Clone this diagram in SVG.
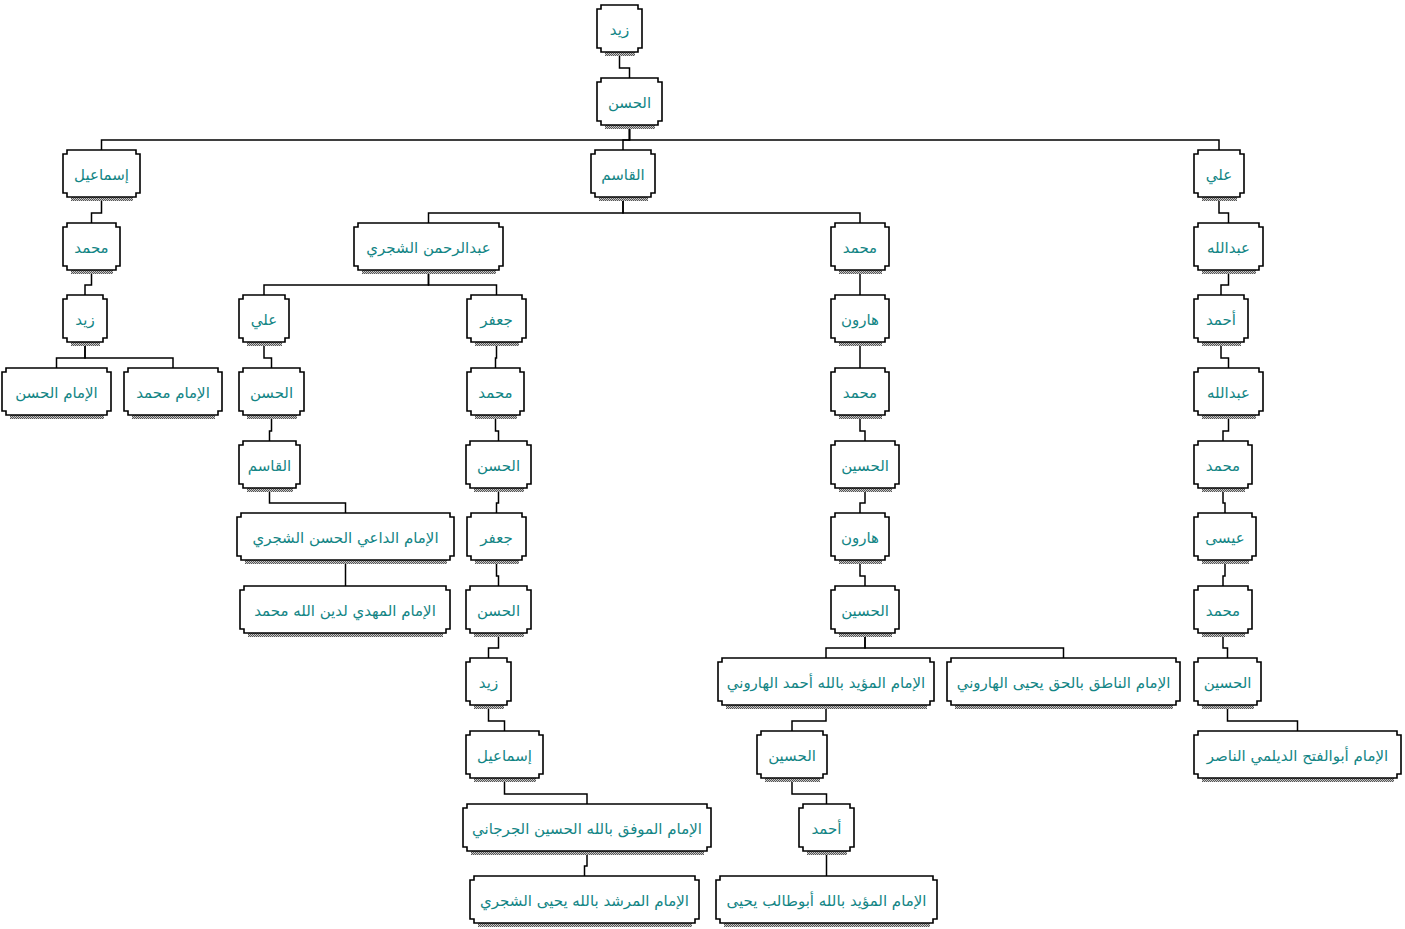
<svg xmlns="http://www.w3.org/2000/svg" width="1405" height="929" viewBox="0 0 1405 929">
<defs>
<pattern id="dither" width="2" height="2" patternUnits="userSpaceOnUse">
<rect width="2" height="2" fill="#c8c8c8"/>
<rect width="1" height="1" fill="#555"/>
<rect x="1" y="1" width="1" height="1" fill="#555"/>
</pattern>
</defs>
<style>
.bx{fill:#fff;stroke:#000;stroke-width:1.6;stroke-linejoin:miter}
.sh{fill:url(#dither)}
.cn path{fill:none;stroke:#000;stroke-width:1.5}
text{font-family:"DejaVu Sans",sans-serif;font-size:15px;fill:#138585;text-anchor:middle}
</style>
<rect width="1405" height="929" fill="#fff"/>
<g id="connectors" class="cn">
<path d="M619.5,52V68H629.5V78"/>
<path d="M629.5,125V140H101.5V150"/>
<path d="M629.5,125V140H623V150"/>
<path d="M629.5,125V140H1219V150"/>
<path d="M101.5,197V213H91.5V223"/>
<path d="M623,197V213H428.5V223"/>
<path d="M623,197V213H860V223"/>
<path d="M1219,197V213H1228.5V223"/>
<path d="M91.5,270V285H85V295"/>
<path d="M428.5,270V285H264V295"/>
<path d="M428.5,270V285H496.5V295"/>
<path d="M860,270V295"/>
<path d="M1228.5,270V285H1221V295"/>
<path d="M85,342V358H56.5V368"/>
<path d="M85,342V358H173V368"/>
<path d="M264,342V358H271.5V368"/>
<path d="M496.5,342V358H495.5V368"/>
<path d="M860,342V368"/>
<path d="M1221,342V358H1228.5V368"/>
<path d="M271.5,415V431H269.5V441"/>
<path d="M495.5,415V431H498.5V441"/>
<path d="M860,415V431H865V441"/>
<path d="M1228.5,415V431H1223V441"/>
<path d="M269.5,488V503H345.5V513"/>
<path d="M498.5,488V503H496.5V513"/>
<path d="M865,488V503H860V513"/>
<path d="M1223,488V503H1225V513"/>
<path d="M345.5,560V586"/>
<path d="M496.5,560V576H498.5V586"/>
<path d="M860,560V576H865V586"/>
<path d="M1225,560V576H1223V586"/>
<path d="M498.5,633V648H488.5V658"/>
<path d="M865,633V648H826V658"/>
<path d="M865,633V648H1063.5V658"/>
<path d="M1223,633V648H1227.5V658"/>
<path d="M488.5,705V721H504.5V731"/>
<path d="M826,705V721H792V731"/>
<path d="M1227.5,705V721H1297.5V731"/>
<path d="M504.5,778V794H587V804"/>
<path d="M792,778V794H826.5V804"/>
<path d="M587,851V866H584.5V876"/>
<path d="M826.5,851V876"/>
</g>

<g id="n0" transform="translate(597,5)"><rect class="sh" x="8" y="47" width="30" height="4"/><path class="bx" d="M4,0H41V4H45V43H41V47H4V43H0V4H4Z"/><text x="22.5" y="30">زيد</text></g>
<g id="n1" transform="translate(597,78)"><rect class="sh" x="8" y="47" width="50" height="4"/><path class="bx" d="M4,0H61V4H65V43H61V47H4V43H0V4H4Z"/><text x="32.5" y="30">الحسن</text></g>

<g id="n2a" transform="translate(63,150)"><rect class="sh" x="8" y="47" width="62" height="4"/><path class="bx" d="M4,0H73V4H77V43H73V47H4V43H0V4H4Z"/><text x="38.5" y="30">إسماعيل</text></g>
<g id="n2b" transform="translate(591,150)"><rect class="sh" x="8" y="47" width="49" height="4"/><path class="bx" d="M4,0H60V4H64V43H60V47H4V43H0V4H4Z"/><text x="32" y="30">القاسم</text></g>
<g id="n2c" transform="translate(1194,150)"><rect class="sh" x="8" y="47" width="35" height="4"/><path class="bx" d="M4,0H46V4H50V43H46V47H4V43H0V4H4Z"/><text x="25" y="30">علي</text></g>

<g id="n3a" transform="translate(63,223)"><rect class="sh" x="8" y="47" width="42" height="4"/><path class="bx" d="M4,0H53V4H57V43H53V47H4V43H0V4H4Z"/><text x="28.5" y="30">محمد</text></g>
<g id="n3b" transform="translate(354,223)"><rect class="sh" x="8" y="47" width="134" height="4"/><path class="bx" d="M4,0H145V4H149V43H145V47H4V43H0V4H4Z"/><text x="74.5" y="30">عبدالرحمن الشجري</text></g>
<g id="n3c" transform="translate(831,223)"><rect class="sh" x="8" y="47" width="43" height="4"/><path class="bx" d="M4,0H54V4H58V43H54V47H4V43H0V4H4Z"/><text x="29" y="30">محمد</text></g>
<g id="n3d" transform="translate(1194,223)"><rect class="sh" x="8" y="47" width="54" height="4"/><path class="bx" d="M4,0H65V4H69V43H65V47H4V43H0V4H4Z"/><text x="34.5" y="30">عبدالله</text></g>

<g id="n4a" transform="translate(63,295)"><rect class="sh" x="8" y="47" width="29" height="4"/><path class="bx" d="M4,0H40V4H44V43H40V47H4V43H0V4H4Z"/><text x="22" y="30">زيد</text></g>
<g id="n4b" transform="translate(239,295)"><rect class="sh" x="8" y="47" width="35" height="4"/><path class="bx" d="M4,0H46V4H50V43H46V47H4V43H0V4H4Z"/><text x="25" y="30">علي</text></g>
<g id="n4c" transform="translate(467,295)"><rect class="sh" x="8" y="47" width="44" height="4"/><path class="bx" d="M4,0H55V4H59V43H55V47H4V43H0V4H4Z"/><text x="29.5" y="30">جعفر</text></g>
<g id="n4d" transform="translate(831,295)"><rect class="sh" x="8" y="47" width="43" height="4"/><path class="bx" d="M4,0H54V4H58V43H54V47H4V43H0V4H4Z"/><text x="29" y="30">هارون</text></g>
<g id="n4e" transform="translate(1194,295)"><rect class="sh" x="8" y="47" width="39" height="4"/><path class="bx" d="M4,0H50V4H54V43H50V47H4V43H0V4H4Z"/><text x="27" y="30">أحمد</text></g>

<g id="n5a" transform="translate(2,368)"><rect class="sh" x="8" y="47" width="94" height="4"/><path class="bx" d="M4,0H105V4H109V43H105V47H4V43H0V4H4Z"/><text x="54.5" y="30">الإمام الحسن</text></g>
<g id="n5b" transform="translate(124,368)"><rect class="sh" x="8" y="47" width="83" height="4"/><path class="bx" d="M4,0H94V4H98V43H94V47H4V43H0V4H4Z"/><text x="49" y="30">الإمام محمد</text></g>
<g id="n5c" transform="translate(239,368)"><rect class="sh" x="8" y="47" width="50" height="4"/><path class="bx" d="M4,0H61V4H65V43H61V47H4V43H0V4H4Z"/><text x="32.5" y="30">الحسن</text></g>
<g id="n5d" transform="translate(467,368)"><rect class="sh" x="8" y="47" width="42" height="4"/><path class="bx" d="M4,0H53V4H57V43H53V47H4V43H0V4H4Z"/><text x="28.5" y="30">محمد</text></g>
<g id="n5e" transform="translate(831,368)"><rect class="sh" x="8" y="47" width="43" height="4"/><path class="bx" d="M4,0H54V4H58V43H54V47H4V43H0V4H4Z"/><text x="29" y="30">محمد</text></g>
<g id="n5f" transform="translate(1194,368)"><rect class="sh" x="8" y="47" width="54" height="4"/><path class="bx" d="M4,0H65V4H69V43H65V47H4V43H0V4H4Z"/><text x="34.5" y="30">عبدالله</text></g>

<g id="n6a" transform="translate(239,441)"><rect class="sh" x="8" y="47" width="46" height="4"/><path class="bx" d="M4,0H57V4H61V43H57V47H4V43H0V4H4Z"/><text x="30.5" y="30">القاسم</text></g>
<g id="n6b" transform="translate(466,441)"><rect class="sh" x="8" y="47" width="50" height="4"/><path class="bx" d="M4,0H61V4H65V43H61V47H4V43H0V4H4Z"/><text x="32.5" y="30">الحسن</text></g>
<g id="n6c" transform="translate(831,441)"><rect class="sh" x="8" y="47" width="53" height="4"/><path class="bx" d="M4,0H64V4H68V43H64V47H4V43H0V4H4Z"/><text x="34" y="30">الحسين</text></g>
<g id="n6d" transform="translate(1194,441)"><rect class="sh" x="8" y="47" width="43" height="4"/><path class="bx" d="M4,0H54V4H58V43H54V47H4V43H0V4H4Z"/><text x="29" y="30">محمد</text></g>

<g id="n7a" transform="translate(237,513)"><rect class="sh" x="8" y="47" width="202" height="4"/><path class="bx" d="M4,0H213V4H217V43H213V47H4V43H0V4H4Z"/><text x="108.5" y="30">الإمام الداعي الحسن الشجري</text></g>
<g id="n7b" transform="translate(467,513)"><rect class="sh" x="8" y="47" width="44" height="4"/><path class="bx" d="M4,0H55V4H59V43H55V47H4V43H0V4H4Z"/><text x="29.5" y="30">جعفر</text></g>
<g id="n7c" transform="translate(831,513)"><rect class="sh" x="8" y="47" width="43" height="4"/><path class="bx" d="M4,0H54V4H58V43H54V47H4V43H0V4H4Z"/><text x="29" y="30">هارون</text></g>
<g id="n7d" transform="translate(1194,513)"><rect class="sh" x="8" y="47" width="47" height="4"/><path class="bx" d="M4,0H58V4H62V43H58V47H4V43H0V4H4Z"/><text x="31" y="30">عيسى</text></g>

<g id="n8a" transform="translate(240,586)"><rect class="sh" x="8" y="47" width="195" height="4"/><path class="bx" d="M4,0H206V4H210V43H206V47H4V43H0V4H4Z"/><text x="105" y="30">الإمام المهدي لدين الله محمد</text></g>
<g id="n8b" transform="translate(466,586)"><rect class="sh" x="8" y="47" width="50" height="4"/><path class="bx" d="M4,0H61V4H65V43H61V47H4V43H0V4H4Z"/><text x="32.5" y="30">الحسن</text></g>
<g id="n8c" transform="translate(831,586)"><rect class="sh" x="8" y="47" width="53" height="4"/><path class="bx" d="M4,0H64V4H68V43H64V47H4V43H0V4H4Z"/><text x="34" y="30">الحسين</text></g>
<g id="n8d" transform="translate(1194,586)"><rect class="sh" x="8" y="47" width="43" height="4"/><path class="bx" d="M4,0H54V4H58V43H54V47H4V43H0V4H4Z"/><text x="29" y="30">محمد</text></g>

<g id="n9a" transform="translate(466,658)"><rect class="sh" x="8" y="47" width="30" height="4"/><path class="bx" d="M4,0H41V4H45V43H41V47H4V43H0V4H4Z"/><text x="22.5" y="30">زيد</text></g>
<g id="n9b" transform="translate(718,658)"><rect class="sh" x="8" y="47" width="201" height="4"/><path class="bx" d="M4,0H212V4H216V43H212V47H4V43H0V4H4Z"/><text x="108" y="30">الإمام المؤيد بالله أحمد الهاروني</text></g>
<g id="n9c" transform="translate(947,658)"><rect class="sh" x="8" y="47" width="218" height="4"/><path class="bx" d="M4,0H229V4H233V43H229V47H4V43H0V4H4Z"/><text x="116.5" y="30">الإمام الناطق بالحق يحيى الهاروني</text></g>
<g id="n9d" transform="translate(1194,658)"><rect class="sh" x="8" y="47" width="52" height="4"/><path class="bx" d="M4,0H63V4H67V43H63V47H4V43H0V4H4Z"/><text x="33.5" y="30">الحسين</text></g>

<g id="n10a" transform="translate(466,731)"><rect class="sh" x="8" y="47" width="62" height="4"/><path class="bx" d="M4,0H73V4H77V43H73V47H4V43H0V4H4Z"/><text x="38.5" y="30">إسماعيل</text></g>
<g id="n10b" transform="translate(757,731)"><rect class="sh" x="8" y="47" width="55" height="4"/><path class="bx" d="M4,0H66V4H70V43H66V47H4V43H0V4H4Z"/><text x="35" y="30">الحسين</text></g>
<g id="n10c" transform="translate(1194,731)"><rect class="sh" x="8" y="47" width="192" height="4"/><path class="bx" d="M4,0H203V4H207V43H203V47H4V43H0V4H4Z"/><text x="103.5" y="30">الإمام أبوالفتح الديلمي الناصر</text></g>

<g id="n11a" transform="translate(463,804)"><rect class="sh" x="8" y="47" width="233" height="4"/><path class="bx" d="M4,0H244V4H248V43H244V47H4V43H0V4H4Z"/><text x="124" y="30">الإمام الموفق بالله الحسين الجرجاني</text></g>
<g id="n11b" transform="translate(799,804)"><rect class="sh" x="8" y="47" width="40" height="4"/><path class="bx" d="M4,0H51V4H55V43H51V47H4V43H0V4H4Z"/><text x="27.5" y="30">أحمد</text></g>

<g id="n12a" transform="translate(470,876)"><rect class="sh" x="8" y="47" width="214" height="4"/><path class="bx" d="M4,0H225V4H229V43H225V47H4V43H0V4H4Z"/><text x="114.5" y="30">الإمام المرشد بالله يحيى الشجري</text></g>
<g id="n12b" transform="translate(716,876)"><rect class="sh" x="8" y="47" width="206" height="4"/><path class="bx" d="M4,0H217V4H221V43H217V47H4V43H0V4H4Z"/><text x="110.5" y="30">الإمام المؤيد بالله أبوطالب يحيى</text></g>
</svg>
